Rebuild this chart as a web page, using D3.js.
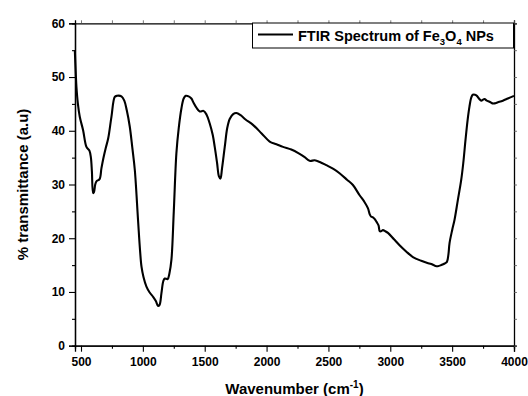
<!DOCTYPE html>
<html>
<head>
<meta charset="utf-8">
<script src="https://cdn.jsdelivr.net/npm/d3@7/dist/d3.min.js"></script>
<style>
  html, body { margin: 0; padding: 0; background: #fff; }
  svg { display: block; font-family: "Liberation Sans", Arial, sans-serif; font-weight: bold; }
</style>
</head>
<body>
<svg id="chart" width="528" height="396"></svg>
<script>
// FTIR spectrum of Fe3O4 nanoparticles
const wavenumber = [
  450, 458, 463, 475, 490, 517, 544, 568, 580, 588, 598, 605, 615, 625, 650, 665, 680, 700, 720, 746,
  773, 790, 827, 850, 870, 894, 915, 935, 961, 978, 989, 1005, 1029, 1055, 1083, 1105, 1123, 1135, 1150, 1165,
  1177, 1200, 1215, 1231, 1250, 1271, 1290, 1312, 1330, 1347, 1370, 1392, 1410, 1433, 1460, 1490, 1515, 1540, 1565, 1581,
  1600, 1615, 1627, 1640, 1662, 1682, 1702, 1730, 1756, 1790, 1830, 1890, 1960, 2025, 2080, 2133, 2200, 2260, 2308, 2348,
  2389, 2430, 2483, 2540, 2590, 2650, 2698, 2752, 2790, 2819, 2835, 2846, 2860, 2873, 2890, 2905, 2915, 2925, 2941, 2960,
  2981, 3030, 3075, 3130, 3183, 3250, 3300, 3331, 3360, 3385, 3412, 3440, 3458, 3470, 3479, 3500, 3519, 3546, 3573, 3590,
  3608, 3625, 3640, 3655, 3667, 3685, 3700, 3720, 3735, 3750, 3762, 3780, 3802, 3825, 3843, 3870, 3910, 3950, 4000
];
const transmittance = [
  55.0, 50.5, 48.2, 45.0, 42.6, 40.1, 37.0, 36.3, 35.0, 32.5, 28.4, 28.6, 30.0, 30.6, 31.0, 33.0, 34.8, 36.8, 38.6, 42.6,
  46.3, 46.5, 46.4, 45.6, 43.8, 40.8, 36.8, 32.7, 23.4, 17.5, 14.7, 12.8, 11.0, 9.9, 9.1, 8.3, 7.4, 7.6, 9.75, 12.0,
  12.5, 12.4, 13.5, 16.0, 25.0, 35.8, 40.5, 44.2, 46.0, 46.5, 46.4, 46.0, 45.2, 44.3, 43.6, 43.7, 43.0, 41.4, 39.2, 37.0,
  34.0, 31.5, 31.1, 33.0, 37.0, 40.5, 42.2, 43.1, 43.3, 42.9, 42.1, 41.1, 39.5, 38.0, 37.5, 37.0, 36.5, 35.8, 35.1, 34.4,
  34.5, 34.2, 33.6, 32.9, 32.1, 30.9, 29.9, 28.0, 26.8, 25.6, 24.4, 24.0, 23.9, 23.6, 23.0, 22.4, 21.3, 21.3, 21.5, 21.3,
  21.0, 19.8, 18.7, 17.5, 16.5, 15.8, 15.4, 15.2, 14.9, 14.8, 15.0, 15.3, 15.6, 17.0, 19.1, 21.5, 23.4, 27.1, 30.8, 34.0,
  38.3, 42.0, 44.5, 46.2, 46.7, 46.7, 46.5, 45.9, 45.6, 45.8, 45.9, 45.6, 45.4, 45.1, 45.1, 45.3, 45.6, 46.0, 46.5
];
const xTicks = [500, 1000, 1500, 2000, 2500, 3000, 3500, 4000];
const xMinorTicks = [750, 1250, 1750, 2250, 2750, 3250, 3750];
const yTicks = [0, 10, 20, 30, 40, 50, 60];
const yMinorTicks = [5, 15, 25, 35, 45, 55];

const svg = d3.select("#chart");
const plotLeft = 75, plotRight = 514, plotTop = 23.3, plotBottom = 345.7;

const x = d3.scaleLinear().domain([451.5, 4000]).range([plotLeft, plotRight]);
const y = d3.scaleLinear().domain([0, 60]).range([plotBottom, plotTop]);

// bottom axis: labelled major ticks plus short minor ticks
const gx = svg.append("g").attr("transform", `translate(0,${plotBottom})`);
gx.call(d3.axisBottom(x).tickValues(xTicks).tickSize(6).tickPadding(6).tickFormat(d3.format("d")));
gx.append("g").call(d3.axisBottom(x).tickValues(xMinorTicks).tickSize(3).tickFormat(""));

const gy = svg.append("g").attr("transform", `translate(${plotLeft},0)`);
gy.call(d3.axisLeft(y).tickValues(yTicks).tickSize(6).tickPadding(4).tickFormat(d3.format("d")));
gy.append("g").call(d3.axisLeft(y).tickValues(yMinorTicks).tickSize(3).tickFormat(""));

// opposite axes: ticks only
const gt = svg.append("g").attr("transform", `translate(0,${plotTop})`);
gt.call(d3.axisTop(x).tickValues(xTicks.concat(xMinorTicks)).tickSize(3).tickFormat(""));
const gr = svg.append("g").attr("transform", `translate(${plotRight},0)`);
gr.call(d3.axisRight(y).tickValues(yTicks.concat(yMinorTicks)).tickSize(3).tickFormat(""));

svg.selectAll(".domain").attr("stroke", "#000").attr("stroke-width", 1.3);
svg.selectAll(".tick line").attr("stroke", "#000").attr("stroke-width", 1.1);
gt.selectAll(".tick line").attr("stroke", "#555").attr("stroke-width", 0.8);
gr.selectAll(".tick line").attr("stroke", "#555").attr("stroke-width", 0.8);
svg.selectAll(".tick text")
  .attr("fill", "#000")
  .style("font-size", "12px")
  .style("font-weight", "bold")
  .style("font-family", "'Liberation Sans', Arial, sans-serif");

// spectrum line
const pts = wavenumber.map((w, i) => [w, transmittance[i]]);
const line = d3.line().x(d => x(d[0])).y(d => y(d[1])).curve(d3.curveCatmullRom.alpha(0.5));
svg.append("path")
  .datum(pts)
  .attr("d", line)
  .attr("fill", "none")
  .attr("stroke", "#000")
  .attr("stroke-width", 2.1)
  .attr("stroke-linejoin", "round");

// axis titles
const xt = svg.append("text")
  .attr("x", (plotLeft + plotRight) / 2)
  .attr("y", 394)
  .attr("text-anchor", "middle")
  .style("font-size", "15px");
xt.append("tspan").text("Wavenumber (cm");
xt.append("tspan").attr("dy", -6).style("font-size", "10px").text("-1");
xt.append("tspan").attr("dy", 6).text(")");

svg.append("text")
  .attr("transform", `translate(28,${(plotTop + plotBottom) / 2}) rotate(-90)`)
  .attr("text-anchor", "middle")
  .style("font-size", "15px")
  .text("% transmittance (a.u)");

// legend
const lg = svg.append("g");
lg.append("rect")
  .attr("x", 252.5).attr("y", 23).attr("width", 261).attr("height", 25)
  .attr("fill", "#fff").attr("stroke", "#000").attr("stroke-width", 1);
lg.append("line")
  .attr("x1", 258).attr("x2", 293).attr("y1", 34.5).attr("y2", 34.5)
  .attr("stroke", "#000").attr("stroke-width", 2.1);
const lt = lg.append("text").attr("x", 298).attr("y", 41).style("font-size", "14.5px");
lt.append("tspan").text("FTIR Spectrum of Fe");
lt.append("tspan").attr("dy", 4).style("font-size", "9.5px").text("3");
lt.append("tspan").attr("dy", -4).text("O");
lt.append("tspan").attr("dy", 4).style("font-size", "9.5px").text("4");
lt.append("tspan").attr("dy", -4).text(" NPs");
</script>
</body>
</html>
